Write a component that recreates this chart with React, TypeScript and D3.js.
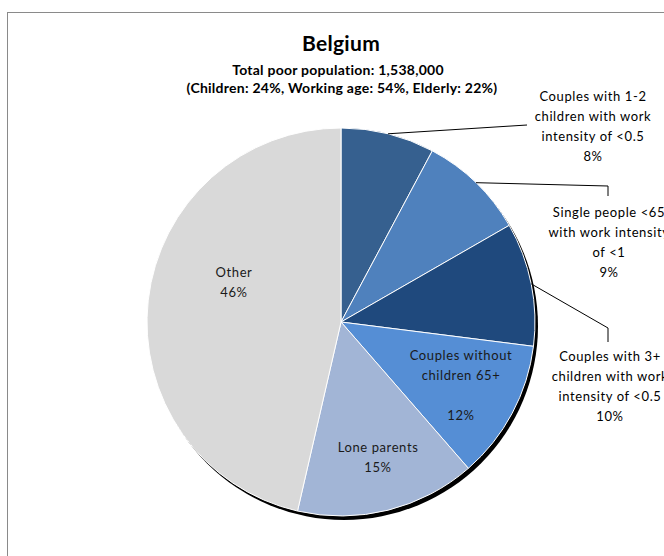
import React from "react";
import * as d3 from "d3";

const title = "Belgium";
const subtitle1 = "Total poor population: 1,538,000";
const subtitle2 = "(Children: 24%, Working age: 54%, Elderly: 22%)";

const categories = [
  "Couples with 1-2 children with work intensity of <0.5",
  "Single people <65 with work intensity of <1",
  "Couples with 3+ children with work intensity of <0.5",
  "Couples without children 65+",
  "Lone parents",
  "Other",
];
const values = [7.8, 8.9, 10.3, 11.6, 15.0, 46.4];
const labelLines = [
  ["Couples with 1-2", "children with work", "intensity of <0.5"],
  ["Single people <65", "with work intensity", "of <1"],
  ["Couples with 3+", "children with work", "intensity of <0.5"],
  ["Couples without", "children 65+", ""],
  ["Lone parents"],
  ["Other"],
];
const colors = ["#36608f", "#4f81bd", "#1f497d", "#558ed5", "#a2b5d6", "#d9d9d9"];

// label layout (offsets relative to pie center)
const labelLayout = [
  { dx: 252, dy: -221, outside: true, elbow: [[186, -197]] },
  { dx: 268, dy: -105, outside: true, elbow: [[267, -136], [267, -126]] },
  { dx: 269, dy: 39, outside: true, elbow: [[267, 6], [267, 20]] },
  { dx: 120, dy: 38, outside: false, elbow: [] },
  { dx: 37, dy: 130, outside: false, elbow: [] },
  { dx: -107, dy: -45, outside: false, elbow: [] },
];

const W = 664;
const H = 556;
const cx = 341;
const cy = 322;
const R = 194;
const FONT = "Lato, 'Open Sans', sans-serif";

export default function App() {
  const pie = d3
    .pie<number>()
    .sort(null)
    .value((d) => d)
    .startAngle(0)
    .endAngle(2 * Math.PI);
  const arcs = pie(values);
  const arc = d3.arc<d3.PieArcDatum<number>>().innerRadius(0).outerRadius(R);

  return (
    <svg
      width={W}
      height={H}
      style={{ position: "absolute", left: 0, top: 0, background: "#fff" }}
    >
      <defs>
        <filter id="sh" x="-10%" y="-10%" width="120%" height="120%">
          <feGaussianBlur stdDeviation="0.5" />
        </filter>
      </defs>
      <rect x={7.5} y={12.5} width={W + 20} height={H + 20} fill="#fff" stroke="#8a8a8a" strokeWidth={1} />
      <text x={341} y={51} textAnchor="middle" fontFamily={FONT} fontWeight="bold" fontSize={21} letterSpacing={0.3} fill="#000">
        {title}
      </text>
      <text x={338} y={75} textAnchor="middle" fontFamily={FONT} fontWeight="bold" fontSize={14} letterSpacing={0.25} fill="#000">
        {subtitle1}
      </text>
      <text x={342} y={93} textAnchor="middle" fontFamily={FONT} fontWeight="bold" fontSize={14} letterSpacing={0.25} fill="#000">
        {subtitle2}
      </text>
      <g transform={`translate(${cx},${cy})`}>
        <circle cx={3} cy={4} r={R} fill="#000" filter="url(#sh)" />
        {arcs.map((a, i) => (
          <path key={categories[i]} d={arc(a) || ""} fill={colors[i]} stroke="#fff" strokeWidth={1} />
        ))}
        {arcs.map((a, i) => {
          const L = labelLayout[i];
          if (!L.outside) return null;
          const mid = (a.startAngle + a.endAngle) / 2;
          const sx = R * Math.sin(mid);
          const sy = -R * Math.cos(mid);
          const pts = [[sx, sy], ...L.elbow];
          const line = d3.line()(pts as [number, number][]);
          return <path key={"l" + i} d={line || ""} fill="none" stroke="#000" strokeWidth={1} />;
        })}
        {arcs.map((a, i) => {
          const L = labelLayout[i];
          const lines = [...labelLines[i], Math.round(values[i]) + "%"];
          const lh = 20;
          return (
            <text
              key={"t" + i}
              textAnchor="middle"
              fontFamily={FONT}
              fontSize={13}
              letterSpacing={0.6}
              fill={L.outside ? "#000" : "#1a1a1a"}
            >
              {lines.map((s, j) => (
                <tspan key={j} x={L.dx} y={L.dy + j * lh}>
                  {s}
                </tspan>
              ))}
            </text>
          );
        })}
      </g>
    </svg>
  );
}
